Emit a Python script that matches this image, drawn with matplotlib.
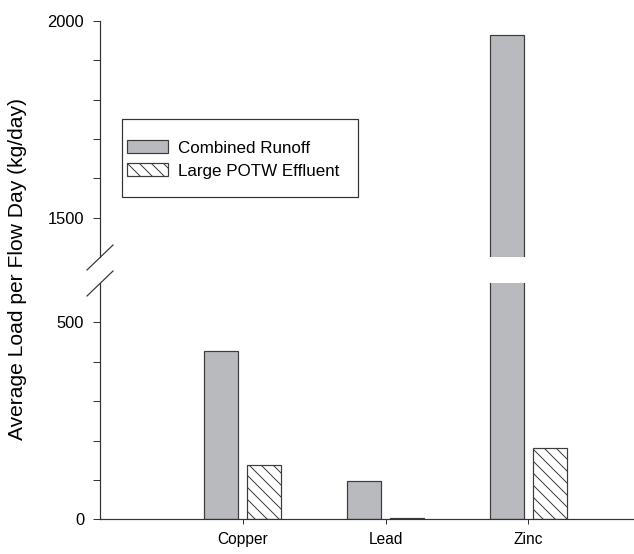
import matplotlib
matplotlib.use("Agg")
import matplotlib.pyplot as plt
from matplotlib.lines import Line2D
from matplotlib.patches import Patch, Rectangle
import numpy as np

# %% Data
metals = ["Copper", "Lead", "Zinc"]
combined_runoff = [428, 98, 1964]
potw_effluent = [138, 3, 181]
series_labels = ["Combined Runoff", "Large POTW Effluent"]

# %% Style
plt.rcParams["font.family"] = ["Liberation Sans", "DejaVu Sans"]
plt.rcParams["hatch.linewidth"] = 1.0
GREY = "#b9babe"
EDGE = "#3c3c3c"
AXCOL = "#333333"
HATCH = "\\\\"

W, H = 634, 554
fig = plt.figure(figsize=(W / 72, H / 72), dpi=72)


def fx(px):
    return px / W


def fy(py):
    return 1 - py / H


# lower and upper panels of the broken y axis
ax_lo = fig.add_axes([fx(100), fy(519.3), fx(534), (519.3 - 283) / H])
ax_hi = fig.add_axes([fx(100), fy(257), fx(534), (257 - 21) / H])

x = np.arange(1, len(metals) + 1)
width = 0.238
offset = 0.15

for ax in (ax_lo, ax_hi):
    ax.bar(x - offset, combined_runoff, width, color=GREY, edgecolor=EDGE, linewidth=1.2)
    ax.bar(x + offset, potw_effluent, width, color="white", edgecolor=EDGE,
           linewidth=1.2, hatch=HATCH)
    ax.set_xlim(0, 3.74)
    for side in ("top", "right"):
        ax.spines[side].set_visible(False)
    for side in ("left", "bottom"):
        ax.spines[side].set_color(AXCOL)
        ax.spines[side].set_linewidth(1.2)
    ax.tick_params(axis="y", which="both", direction="out", length=7, width=1,
                   color=AXCOL, labelsize=16.5, pad=9)

ax_lo.set_ylim(0, 600)
ax_lo.set_yticks([0, 500])
ax_lo.set_yticks([100, 200, 300, 400], minor=True)
ax_lo.set_xticks(x)
ax_lo.set_xticklabels(metals)
ax_lo.tick_params(axis="x", direction="out", length=5, width=1, color=AXCOL,
                  labelsize=15.5, pad=8)

ax_hi.set_ylim(1400, 2000)
ax_hi.set_yticks([1500, 2000])
ax_hi.set_yticks([1600, 1700, 1800, 1900], minor=True)
ax_hi.spines["bottom"].set_visible(False)
ax_hi.set_xticks([])

# break marks on the y axis
for cy in (257, 283):
    fig.add_artist(Line2D([fx(87), fx(113)], [fy(cy + 13), fy(cy - 12)],
                          transform=fig.transFigure, color=AXCOL, lw=1.2))

fig.text(fx(18), fy(269), "Average Load per Flow Day (kg/day)", rotation=90,
         ha="center", va="center", fontsize=21)

# legend: entries without frame, box drawn separately (roomy padding)
handles = [Patch(facecolor=GREY, edgecolor=EDGE, linewidth=1.2),
           Patch(facecolor="white", edgecolor=EDGE, linewidth=1.2, hatch=HATCH)]
leg = fig.legend(handles, series_labels, loc="upper left",
                 bbox_to_anchor=(fx(127), fy(140)), borderaxespad=0,
                 borderpad=0, fontsize=17, frameon=False,
                 handlelength=2.4, handleheight=0.82, handletextpad=0.6,
                 labelspacing=0.44)
fig.add_artist(Rectangle((fx(122), fy(197)), fx(358 - 122), (197 - 119) / H,
                         transform=fig.transFigure, fill=False,
                         edgecolor=AXCOL, linewidth=1.2))

fig.savefig("out.png", dpi=72)
